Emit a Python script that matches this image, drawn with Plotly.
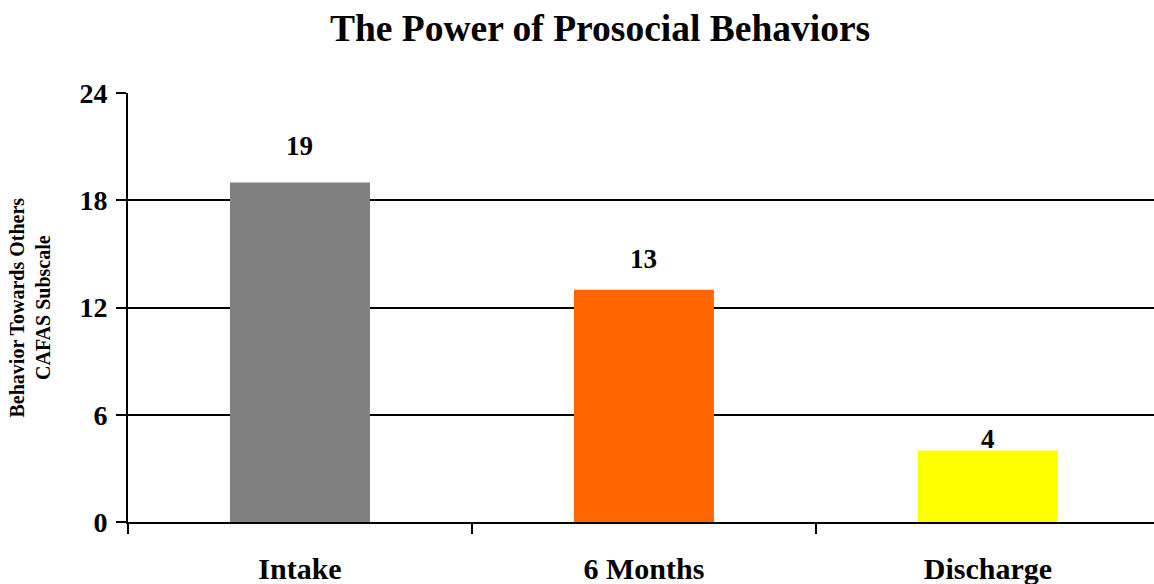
import plotly.graph_objects as go

categories = ["Intake", "6 Months", "Discharge"]
values = [19, 13, 4]
value_labels = ["19", "13", "4"]
bar_colors = ["#808080", "#FF6600", "#FFFF00"]
label_yshift = [36, 31, 12]
y_ticks = [0, 6, 12, 18, 24]

FONT = "Liberation Serif, Times New Roman, serif"

W, H = 1154, 584

fig = go.Figure()
fig.add_trace(go.Bar(
    x=categories, y=values,
    marker=dict(color=bar_colors, line=dict(width=0)),
    width=0.407,
    hoverinfo="x+y",
))

for c, v, t, s in zip(categories, values, value_labels, label_yshift):
    fig.add_annotation(x=c, y=v, text=f"<b>{t}</b>", showarrow=False,
                       yanchor="middle", yshift=s,
                       font=dict(family=FONT, size=27, color="black"))

fig.add_annotation(xref="paper", yref="paper", x=0, y=0.5, xshift=-99,
                   text="<b>Behavior Towards Others<br>CAFAS Subscale</b>",
                   textangle=-90, showarrow=False, xanchor="center", yanchor="middle",
                   font=dict(family=FONT, size=20, color="black"))

fig.update_layout(
    width=W, height=H,
    margin=dict(l=128, r=0, t=93, b=62, autoexpand=False),
    paper_bgcolor="white", plot_bgcolor="white",
    showlegend=False,
    title=dict(text="<b>The Power of Prosocial Behaviors</b>", x=0.52, xanchor="center",
               y=1 - 28 / H, yanchor="middle", automargin=False,
               font=dict(family=FONT, size=37.5, color="black")),
    xaxis=dict(
        type="category", range=[-0.5, 2.483], automargin=False,
        tickson="boundaries", ticks="outside", ticklen=10, tickwidth=2, tickcolor="black",
        showline=True, linecolor="black", linewidth=2,
        showgrid=False, ticklabelstandoff=19,
        tickfont=dict(family=FONT, size=30, color="black"),
    ),
    yaxis=dict(
        range=[0, 24], tickvals=y_ticks, ticktext=[f"<b>{v}</b>" for v in y_ticks],
        automargin=False,
        ticks="outside", ticklen=10, tickwidth=2, tickcolor="black",
        showline=True, linecolor="black", linewidth=2,
        showgrid=True, gridcolor="black", gridwidth=2,
        zeroline=False, ticklabelstandoff=3,
        tickfont=dict(family=FONT, size=28, color="black"),
    ),
)
fig.update_xaxes(ticktext=[f"<b>{c}</b>" for c in categories], tickvals=categories)

fig.write_html(
    "out.html",
    config={"displayModeBar": False},
    post_script="document.body.style.margin='0';document.body.style.overflow='hidden';",
)
